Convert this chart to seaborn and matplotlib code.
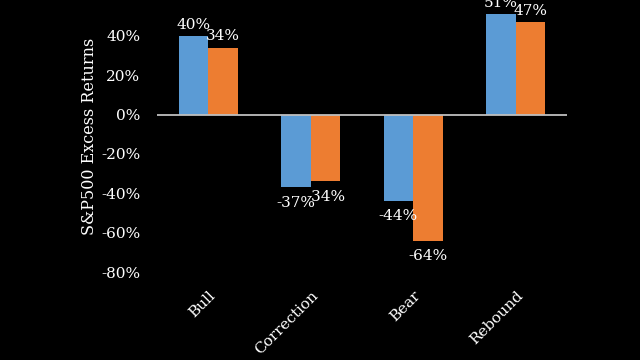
import matplotlib
matplotlib.use("Agg")
import matplotlib.pyplot as plt
import seaborn as sns
import pandas as pd

categories = ["Bull", "Correction", "Bear", "Rebound"]
series_names = ["Series 1", "Series 2"]
series1 = [0.40, -0.37, -0.44, 0.51]
series2 = [0.34, -0.34, -0.64, 0.47]
yticks = [-0.8, -0.6, -0.4, -0.2, 0.0, 0.2, 0.4]

df = pd.DataFrame({
    "Phase": categories * 2,
    "Series": [series_names[0]] * 4 + [series_names[1]] * 4,
    "Value": series1 + series2,
})

sns.set_style("dark")
plt.rcParams["font.family"] = ["DejaVu Serif"]

fig = plt.figure(figsize=(6.4, 3.6), dpi=100, facecolor="black")
ax = fig.add_axes([157 / 640, 1 - 272 / 360, 410 / 640, 272 / 360])
ax.set_facecolor("black")

sns.barplot(data=df, x="Phase", y="Value", hue="Series", order=categories,
            hue_order=series_names, palette=["#5B9BD5", "#ED7D31"],
            width=0.58, dodge=True, saturation=1, ax=ax, legend=False,
            errorbar=None, edgecolor="none", linewidth=0)

ax.set_xlim(-0.5, 3.5)
ax.set_ylim(-0.8, 0.582)
ax.axhline(0, color="#bfbfbf", lw=1.3, zorder=5)

for cont in ax.containers:
    for bar in cont:
        h = bar.get_height()
        xc = bar.get_x() + bar.get_width() / 2
        if h >= 0:
            ax.annotate(f"{h*100:.0f}%", (xc, h), xytext=(0, 3), textcoords="offset points",
                        ha="center", va="bottom", color="white", fontsize=11,
                        annotation_clip=False)
        else:
            ax.annotate(f"{h*100:.0f}%", (xc, h), xytext=(0, -6), textcoords="offset points",
                        ha="center", va="top", color="white", fontsize=11,
                        annotation_clip=False)

ax.set_yticks(yticks)
ax.set_yticklabels([f"{v*100:.0f}%" for v in yticks], color="white", fontsize=11)
ax.set_xticks(range(len(categories)))
ax.set_xticklabels(categories, rotation=45, ha="right", rotation_mode="anchor",
                   color="white", fontsize=11)
ax.tick_params(axis="x", length=0, pad=12)
ax.tick_params(axis="y", length=0, pad=12)
ax.set_xlabel("")
ax.set_ylabel("S&P500 Excess Returns", color="white", fontsize=11.5, labelpad=2)
ax.grid(False)
for s in ax.spines.values():
    s.set_visible(False)

fig.savefig("out.png", dpi=100, facecolor="black")
